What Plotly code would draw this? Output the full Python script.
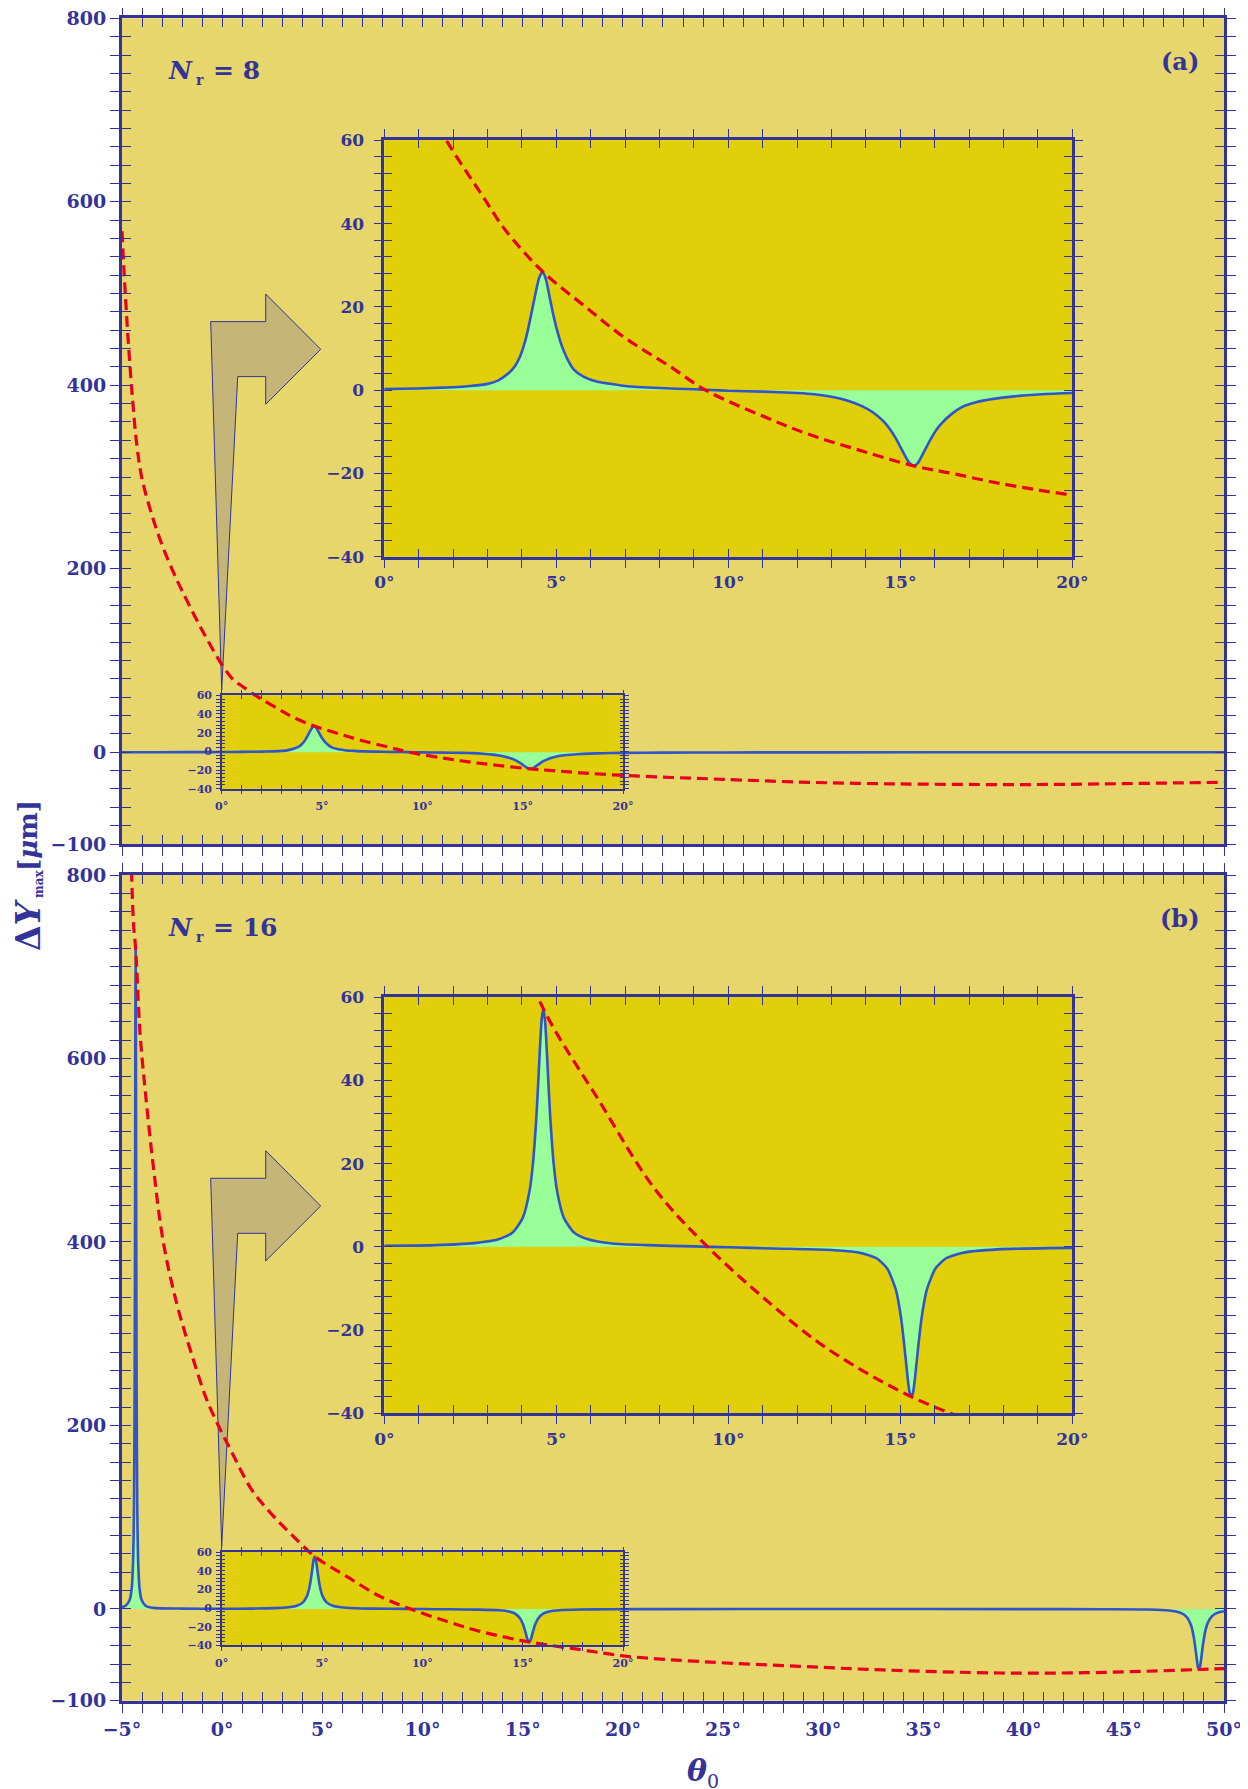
import plotly.graph_objects as go

W, H = 1248, 1789

# ---------------- data ----------------
# Panel (a): N_r = 8
theta_a = [-5.0, -3.0, -1.0, 0.0, 1.0, 2.0, 2.5, 3.0, 3.3, 3.6, 3.8, 3.95, 4.1, 4.2, 4.3, 4.4, 4.5,
           4.6, 4.7, 4.8, 4.9, 5.0, 5.15, 5.3, 5.5, 5.8, 6.2, 6.5, 7.0, 8.0, 9.0, 9.5, 10.0, 11.0,
           12.0, 12.5, 13.0, 13.5, 13.9, 14.2, 14.5, 14.7, 14.9, 15.05, 15.2, 15.3, 15.4, 15.5,
           15.6, 15.75, 15.9, 16.05, 16.2, 16.45, 16.8, 17.2, 17.7, 18.3, 19.0, 20.0, 22.0, 25.0,
           30.0, 40.0, 50.0]
dy_a = [0.05, 0.08, 0.12, 0.25, 0.4, 0.7, 1.0, 1.5, 2.3, 4.0, 5.8, 8.2, 12.0, 15.5, 19.5, 23.5, 27.0,
        28.4, 26.5, 22.5, 18.5, 15.0, 10.8, 7.8, 5.0, 3.2, 2.0, 1.6, 1.0, 0.5, 0.2, 0.05, -0.15, -0.35,
        -0.7, -1.0, -1.6, -2.6, -3.9, -5.3, -7.4, -9.4, -12.0, -14.4, -16.7, -17.8, -18.2, -17.6,
        -16.2, -13.8, -11.5, -9.5, -8.0, -6.0, -4.0, -2.9, -2.1, -1.5, -1.05, -0.7, -0.4, -0.2,
        -0.1, -0.05, -0.03]
env_theta_a = [-5.0, -4.9, -4.8, -4.7, -4.5, -4.26, -4.0, -3.5, -3.0, -2.43, -2.0, -1.0, 0.0, 0.56,
               1.0, 1.8, 2.84, 3.52, 4.6, 5.85, 6.95, 8.32, 9.34, 11.05, 12.4, 13.8, 15.4, 16.5,
               17.9, 20.0, 22.5, 25.0, 28.8, 32.0, 35.0, 38.8, 42.0, 45.0, 48.0, 50.0]
env_a = [568, 525, 487, 452, 392, 335, 298, 258, 226, 196, 176, 133, 95, 79,
         72, 60, 46.8, 38.4, 28.5, 20, 12.8, 5.6, 0, -6.4, -10.8, -14.4, -18.2, -20,
         -22.4, -25.2, -27.5, -29.5, -32.5, -34, -34.8, -35.2, -35, -34.2, -33.3, -32.7]

# Panel (b): N_r = 16
theta_b = [-5.0, -4.82, -4.62, -4.52, -4.44, -4.40, -4.37, -4.35, -4.34, -4.33, -4.32, -4.31, -4.30,
           -4.29, -4.27, -4.24, -4.20, -4.12, -4.02, -3.82, -3.62, -3.32, -2.0, 0.0, 1.5, 2.62,
           3.32, 3.72, 4.02, 4.22, 4.32, 4.42, 4.47, 4.52, 4.57, 4.62, 4.67, 4.72, 4.77, 4.82,
           4.92, 5.02, 5.22, 5.52, 5.92, 6.62, 7.62, 9.0, 10.0, 11.32, 12.82, 13.82, 14.32, 14.62,
           14.87, 15.02, 15.12, 15.22, 15.27, 15.32, 15.37, 15.42, 15.52, 15.62, 15.77, 16.02,
           16.32, 16.82, 17.82, 19.3, 22.0, 30.0, 40.0, 44.0, 46.25, 47.25, 47.75, 48.0, 48.2,
           48.35, 48.45, 48.55, 48.6, 48.65, 48.7, 48.75, 48.8, 48.85, 48.9, 48.95, 49.05, 49.15,
           49.3, 49.5, 49.75, 50.0]
dy_b = [1.9, 3.5, 9.7, 21.5, 56.5, 116, 237, 416, 544, 667, 722, 667, 544,
        416, 237, 116, 56.5, 21.5, 9.7, 3.5, 1.8, 0.9, 0.4, 0.25, 0.4, 0.9,
        1.8, 3.4, 6.9, 13.4, 20.1, 31.4, 39.1, 47.4, 54.4, 57.2, 54.4, 47.4, 39.1, 31.4,
        20.1, 13.4, 6.9, 3.4, 1.8, 0.8, 0.4, 0.1, -0.1, -0.4, -0.7, -1.4, -2.8, -5.2,
        -10.3, -17.0, -24.0, -32.0, -35.0, -36.0, -35.0, -32.0, -24.0, -17.0, -10.3, -5.2,
        -2.8, -1.4, -0.6, -0.3, -0.15, -0.1, -0.15, -0.3, -0.6, -1.65, -3.6, -6.1, -10.6,
        -17.5, -25.8, -39.0, -47.5, -56.2, -63.3, -66.0, -63.3, -56.2, -47.5, -39.0, -25.8, -17.5,
        -10.6, -6.1, -3.6, -2.4]
env_theta_b = [-4.6, -4.52, -4.42, -4.32, -4.1, -3.85, -3.44, -2.94, -2.27, -1.6, -0.77, -0.19, 0.5,
               1.47, 2.4, 3.38, 4.62, 6.21, 7.88, 9.4, 11.2, 12.87, 15.32, 17.9, 20.2, 24.0, 28.8,
               33.0, 38.8, 43.0, 46.0, 48.75, 50.0]
env_b = [860, 800, 745, 720, 628, 567, 483, 400, 333, 283, 228, 200, 170,
         130, 105, 82.8, 57.2, 35.5, 13.7, 0, -13.5, -24.4, -36, -44.4, -51.6, -57.5, -62.5,
         -66.5, -69.8, -69.5, -68, -66, -65]

# labelled tick values of the main y axes
main_y_labelled = [-100, 0, 200, 400, 600, 800]

# ---------------- styles ----------------
NAVY = "#333399"
MAIN_BG = "#E7D66C"
INSET_BG = "#E1CF0A"
GREEN = "#99FF99"
BLUE = "#2F55C8"
RED = "#E8001E"
ARROW = "#C5B576"
FONT = "DejaVu Serif"

# the page places the figure 8px from the top-left corner (default body margin)
OX, OY = 8, 8


def fx(px):
    return (px - OX) / W


def fy(py):
    return 1 - (py - OY) / H


fig = go.Figure()
layout = {}
counter = [0]


def aname(kind, i):
    return f"{kind}axis" if i == 1 else f"{kind}axis{i}"


def aid(kind, i):
    return kind if i == 1 else f"{kind}{i}"


def add_axes(xpx, ypx, xr, yr, xmaj, xmin, ymaj, ymin, ticklen, tickw, linew, fsize,
             show_x, xstand, ystand):
    i = counter[0] + 1
    j = i + 1
    counter[0] += 2
    tf = dict(family=FONT, size=fsize, color=NAVY, weight="bold")
    common = dict(showgrid=False, zeroline=False, fixedrange=True, automargin=False,
                  mirror="allticks", ticklen=ticklen, tickwidth=tickw, tickcolor=NAVY)
    layout[aname("x", i)] = dict(
        domain=[fx(xpx[0]), fx(xpx[1])], range=xr, anchor=aid("y", i),
        showline=True, linecolor=NAVY, linewidth=linew, ticks="outside",
        showticklabels=show_x, tickfont=tf, ticklabelstandoff=xstand, ticklabeloverflow="allow",
        minor=dict(ticks="outside", dtick=xmin, ticklen=ticklen, tickwidth=tickw, tickcolor=NAVY),
        **xmaj, **common)
    layout[aname("y", i)] = dict(
        domain=[fy(ypx[1]), fy(ypx[0])], range=yr, anchor=aid("x", i),
        showline=True, linecolor=NAVY, linewidth=linew, ticks="outside",
        showticklabels=True, tickfont=tf, ticklabelstandoff=ystand, ticklabeloverflow="allow",
        minor=dict(ticks="outside", dtick=ymin, ticklen=ticklen, tickwidth=tickw, tickcolor=NAVY),
        **ymaj, **common)
    layout[aname("x", j)] = dict(
        overlaying=aid("x", i), range=xr, anchor=aid("y", j), showline=False, ticks="inside",
        showticklabels=False,
        minor=dict(ticks="inside", dtick=xmin, ticklen=ticklen, tickwidth=tickw, tickcolor=NAVY),
        **xmaj, **common)
    layout[aname("y", j)] = dict(
        overlaying=aid("y", i), range=yr, anchor=aid("x", j), showline=False, ticks="inside",
        showticklabels=False,
        minor=dict(ticks="inside", dtick=ymin, ticklen=ticklen, tickwidth=tickw, tickcolor=NAVY),
        **ymaj, **common)
    fig.add_trace(go.Scatter(x=[None], y=[None], xaxis=aid("x", j), yaxis=aid("y", j),
                             showlegend=False, hoverinfo="skip"))
    return aid("x", i), aid("y", i)


def add_curves(xa, ya, th, dy, eth, ev):
    fig.add_trace(go.Scatter(x=th, y=dy, mode="lines", fill="tozeroy", fillcolor=GREEN,
                             line=dict(color=BLUE, width=2.6, shape="spline", smoothing=0.6),
                             xaxis=xa, yaxis=ya, showlegend=False, hoverinfo="skip"))
    fig.add_trace(go.Scatter(x=eth, y=ev, mode="lines",
                             line=dict(color=RED, width=3.2, dash="11px,6px", shape="spline",
                                       smoothing=1.0),
                             xaxis=xa, yaxis=ya, showlegend=False, hoverinfo="skip"))


main_xmaj = dict(tickmode="linear", tick0=-5, dtick=5, ticksuffix="\u00b0")
main_ymaj = dict(tickmode="array", tickvals=main_y_labelled)
inset_xmaj = dict(tickmode="linear", tick0=0, dtick=5, ticksuffix="\u00b0")
inset_ymaj = dict(tickmode="linear", tick0=-40, dtick=20)

shapes = []
annotations = []

panels = [
    (0.0, theta_a, dy_a, env_theta_a, env_a, False, "8", "(a)"),
    (856.7, theta_b, dy_b, env_theta_b, env_b, True, "16", "(b)"),
]

# main panels
for off, th, dy, eth, ev, showx, nr, tag in panels:
    shapes.append(dict(type="rect", xref="paper", yref="paper", layer="below",
                       x0=fx(122), x1=fx(1224), y0=fy(844 + off), y1=fy(18.3 + off),
                       fillcolor=MAIN_BG, line=dict(width=0)))
    xa, ya = add_axes((122, 1224), (18.3 + off, 844 + off), [-5, 50], [-100, 800],
                      main_xmaj, 1, main_ymaj, 20, 9, 1.4, 3, 19, showx, 0, 0)
    add_curves(xa, ya, th, dy, eth, ev)

# big insets
for off, th, dy, eth, ev, showx, nr, tag in panels:
    shapes.append(dict(type="rect", xref="paper", yref="paper", layer="below",
                       x0=fx(384.4), x1=fx(1072.3), y0=fy(556.7 + off), y1=fy(140.3 + off),
                       fillcolor=INSET_BG, line=dict(width=0)))
    xa, ya = add_axes((384.4, 1072.3), (140.3 + off, 556.7 + off), [0, 20], [-40, 60],
                      inset_xmaj, 1, inset_ymaj, 4, 8, 1.3, 2.8, 17, True, 0, 6)
    add_curves(xa, ya, th, dy, eth, ev)

# small insets (frame + labels; the main curves show through)
for off, th, dy, eth, ev, showx, nr, tag in panels:
    shapes.append(dict(type="rect", xref="paper", yref="paper", layer="below",
                       x0=fx(221.7), x1=fx(623), y0=fy(788.7 + off), y1=fy(695.3 + off),
                       fillcolor=INSET_BG, line=dict(width=0)))
    xa, ya = add_axes((221.7, 623), (695.3 + off, 788.7 + off), [0, 20], [-40, 60],
                      inset_xmaj, 1, inset_ymaj, 4, 3.5, 1.1, 2, 11, True, 3, 2)
    fig.add_trace(go.Scatter(x=[None], y=[None], xaxis=xa, yaxis=ya,
                             showlegend=False, hoverinfo="skip"))

# arrows (pixel outline for panel a; panel b shifted)
arrow_px = [(221.7, 690.0), (210.7, 321.6), (265.7, 321.6), (265.7, 294.0), (320.7, 349.3),
            (265.7, 404.3), (265.7, 376.6), (237.7, 376.6)]
for off, *_rest in panels:
    pts = [(fx(x), fy(y + off)) for x, y in arrow_px]
    path = "M " + " L ".join(f"{x:.5f},{y:.5f}" for x, y in pts) + " Z"
    shapes.append(dict(type="path", xref="paper", yref="paper", layer="below", path=path,
                       fillcolor=ARROW, line=dict(color=NAVY, width=1)))


def note(px, py, text, size, xanchor="left", angle=0, bold=True):
    annotations.append(dict(xref="paper", yref="paper", x=fx(px), y=fy(py), xanchor=xanchor,
                            yanchor="middle", showarrow=False, text=text, textangle=angle,
                            font=dict(family=FONT, size=size, color=NAVY,
                                      weight="bold" if bold else "normal")))


# panel labels: N_r = ..., (a)/(b)
for off, th, dy, eth, ev, showx, nr, tag in panels:
    note(166, 70.7 + off, "<i>N</i>", 25)
    note(194, 80 + off, "r", 14)
    note(211, 70.7 + off, f"= {nr}", 25)
    note(1179.5, 61.6 + off, tag, 24, xanchor="center")

# axis titles (subscripts as separate pieces)
note(697, 1770, "<i>\u03b8</i>", 30, xanchor="center")
note(705, 1781, "0", 19, bold=False)
note(28, 925, "\u0394<i>Y</i>", 33, xanchor="center", angle=-90)
note(39, 884, "max", 12, xanchor="center", angle=-90)
note(28, 836, "[<i>\u03bc</i>m]", 26, xanchor="center", angle=-90)

fig.update_layout(
    width=W, height=H, autosize=False,
    margin=dict(l=0, r=0, t=0, b=0, pad=0),
    paper_bgcolor="white", plot_bgcolor="rgba(0,0,0,0)",
    showlegend=False, shapes=shapes, annotations=annotations,
    **layout,
)

fig.write_html("out.html")
